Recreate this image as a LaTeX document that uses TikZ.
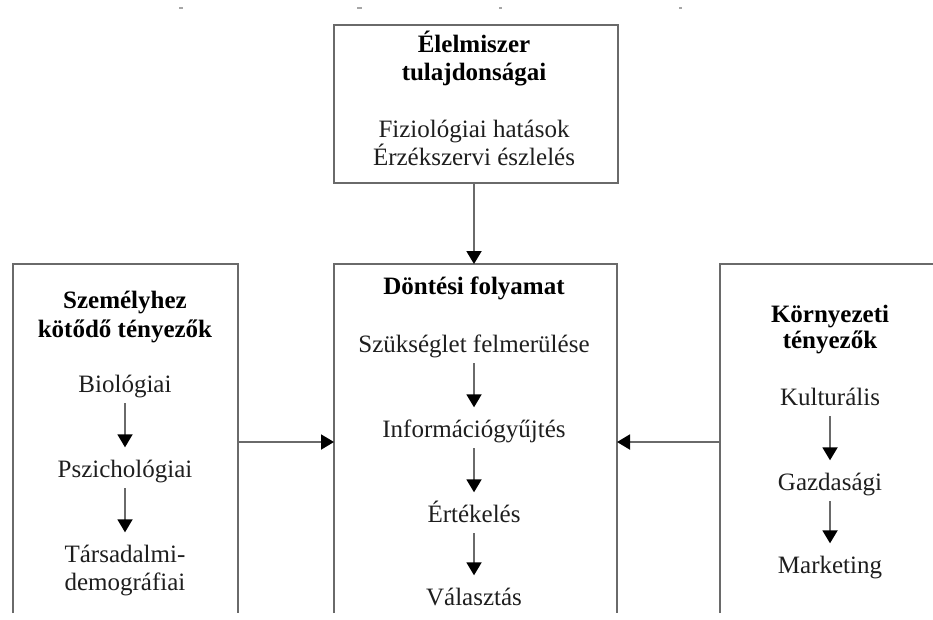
\documentclass[tikz,border=0pt]{standalone}
\usepackage{fontspec}
\setmainfont{Liberation Serif}
\usetikzlibrary{arrows.meta}
\definecolor{boxline}{HTML}{6A6A6A}
\definecolor{txt}{HTML}{1E1E1E}
\tikzset{
  boxframe/.style={draw=boxline, line width=2.4pt},
  item/.style={inner sep=0pt, text height=17pt, text depth=6pt, text=txt,
               font=\fontsize{25}{28}\selectfont},
  head/.style={item, font=\fontsize{25}{28}\selectfont\bfseries, text=black},
  flow/.style={draw=boxline, line width=1.9pt,
               -{Triangle[length=13pt,width=15pt,color=black,fill=black]}},
  inner/.style={flow, shorten <=4.5pt, shorten >=13pt},
  speck/.style={draw=gray!70, line width=2.5pt}
}
\begin{document}
\begin{tikzpicture}[x=1pt,y=-1pt]
\useasboundingbox (0,0) rectangle (933,619);
% remnants of cropped text at the top
\draw[speck] (179,8) -- (183,8);
\draw[speck] (357,8) -- (362,8);
\draw[speck] (499,8) -- (502,8);
\draw[speck] (679,8) -- (682,8);
% frames
\node[boxframe, minimum width=284pt, minimum height=158pt, inner sep=0pt] (food) at (476,104) {};
\draw[boxframe] (13,613) -- (13,264) -- (238,264) -- (238,613);
\draw[boxframe] (334,613) -- (334,264) -- (617,264) -- (617,613);
\draw[boxframe] (720,613) -- (720,264) -- (935,264);
\coordinate (lbox) at (238,442);
\coordinate (cboxl) at (334,442);
\coordinate (cboxr) at (617,442);
\coordinate (rbox) at (720,442);
\coordinate (ctop) at (474,264);
% top box texts
\node[head] (f1) at (474,47) {Élelmiszer};
\node[head] (f2) at (474,75) {tulajdonságai};
\node[item] (f3) at (474,132) {Fiziológiai hatások};
\node[item] (f4) at (474,160) {Érzékszervi észlelés};
% left box
\node[head] (l1) at (125,303) {Személyhez};
\node[head] (l2) at (125,332) {kötődő tényezők};
\node[item] (bio) at (125,387) {Biológiai};
\node[item] (psy) at (125,472) {Pszichológiai};
\node[item] (tar) at (125,557) {Társadalmi-};
\node[item] (dem) at (125,585) {demográfiai};
% centre box
\node[head] (d1) at (474,289) {Döntési folyamat};
\node[item] (szu) at (474,347) {Szükséglet felmerülése};
\node[item] (inf) at (474,432) {Információgyűjtés};
\node[item] (ert) at (474,517) {Értékelés};
\node[item] (val) at (474,600) {Választás};
% right box
\node[head] (r1) at (830,317) {Környezeti};
\node[head] (r2) at (830,343) {tényezők};
\node[item] (kul) at (830,400) {Kulturális};
\node[item] (gaz) at (830,485) {Gazdasági};
\node[item] (mar) at (830,568) {Marketing};
% connectors between boxes
\draw[flow] (food.south -| ctop) -- (ctop);
\draw[flow] (lbox) -- (cboxl);
\draw[flow] (rbox) -- (cboxr);
% connectors inside boxes
\draw[inner] (bio) -- (psy);
\draw[inner] (psy) -- (tar);
\draw[inner] (szu) -- (inf);
\draw[inner] (inf) -- (ert);
\draw[inner] (ert) -- (val);
\draw[inner] (kul) -- (gaz);
\draw[inner] (gaz) -- (mar);
\end{tikzpicture}
\end{document}
